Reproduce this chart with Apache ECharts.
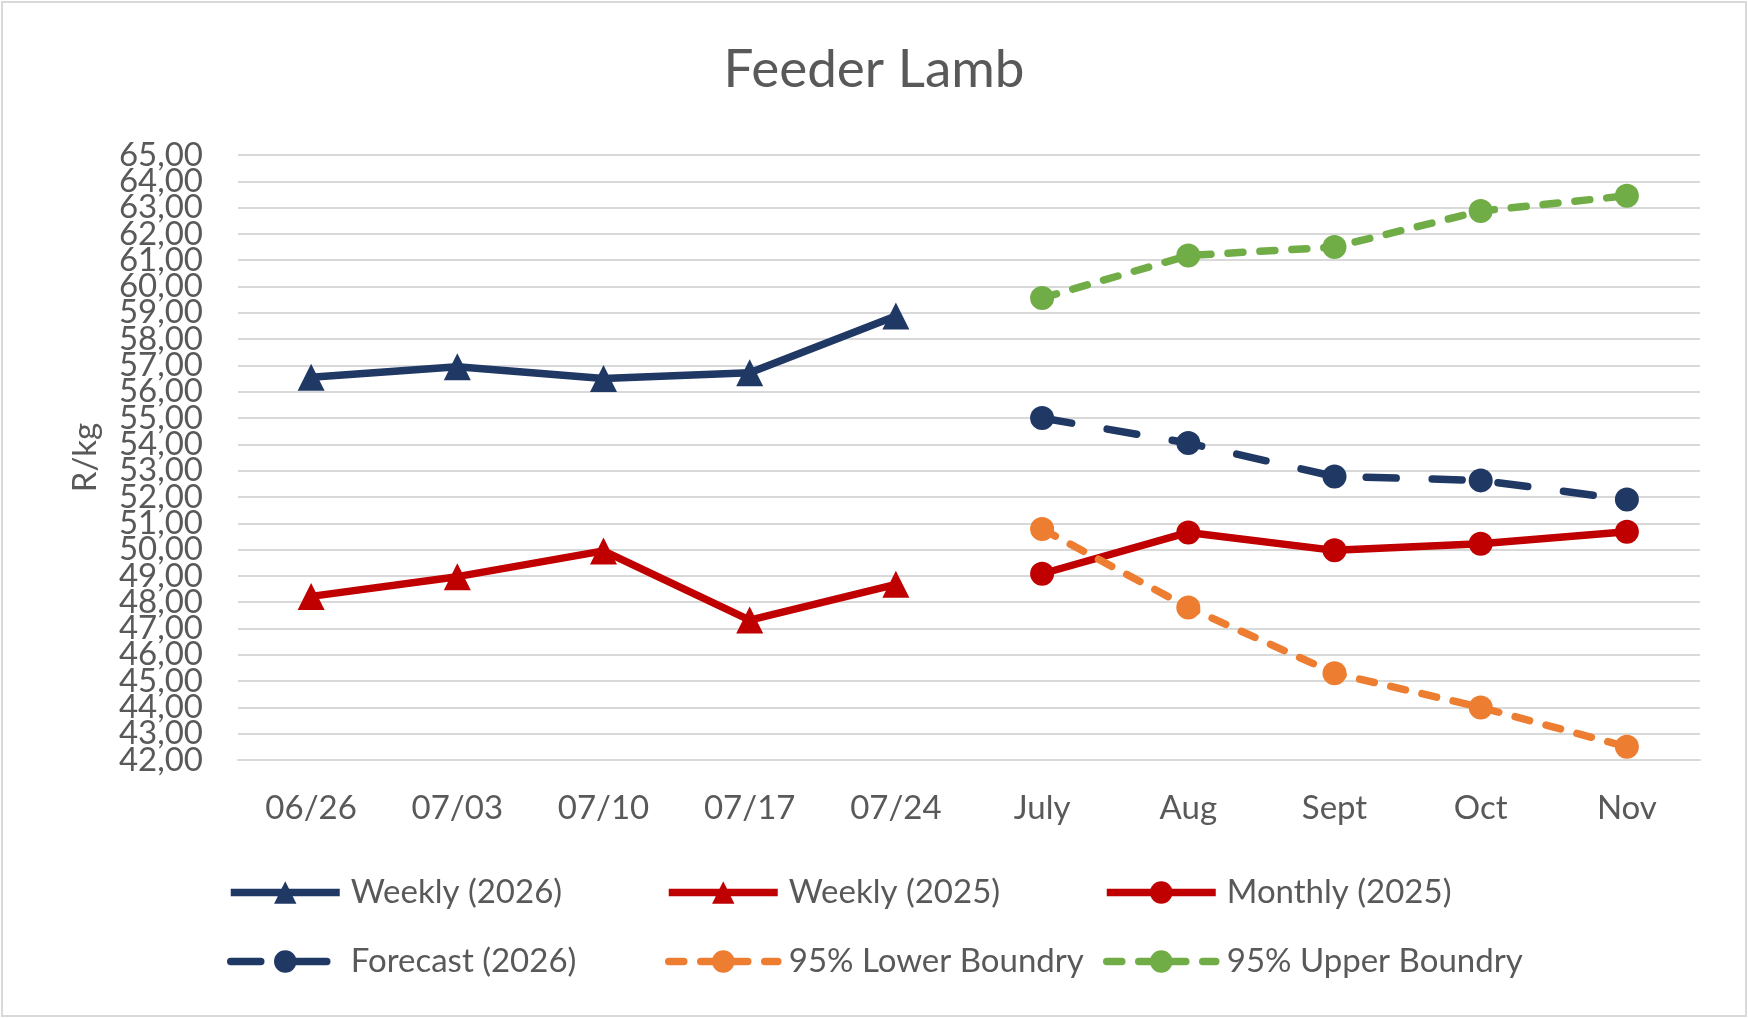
<!DOCTYPE html>
<html>
<head>
<meta charset="utf-8">
<script src="https://cdn.jsdelivr.net/npm/echarts@6/dist/echarts.min.js"></script>
<style>
  html, body { margin: 0; padding: 0; background: #fff; }
  #chart { width: 1748px; height: 1018px; }
</style>
</head>
<body>
<div id="chart"></div>
<script>
var chart = echarts.init(document.getElementById('chart'));

// categories: 5 weeks then 5 months
var categories = ['06/26', '07/03', '07/10', '07/17', '07/24', 'July', 'Aug', 'Sept', 'Oct', 'Nov'];

var weekly2026 = [56.55, 56.95, 56.5, 56.72, 58.88, null, null, null, null, null];
var weekly2025 = [48.22, 48.97, 49.95, 47.32, 48.68, null, null, null, null, null];
var monthly2025 = [null, null, null, null, null, 49.08, 50.65, 49.97, 50.22, 50.68];
var forecast2026 = [null, null, null, null, null, 55.0, 54.05, 52.78, 52.63, 51.9];
var lower95 = [null, null, null, null, null, 50.78, 47.8, 45.3, 44.0, 42.5];
var upper95 = [null, null, null, null, null, 59.56, 61.18, 61.5, 62.87, 63.45];

var yMin = 42, yMax = 65, yStep = 1;

var font = 'Lato';
var grey = '#595959';
var lw = 7.5;

function lineSeries(name, data, color, symbol, size, dash) {
    return {
        name: name,
        type: 'line',
        yAxisIndex: 0,
        data: data,
        symbol: symbol,
        symbolSize: size,
        showSymbol: true,
        connectNulls: false,
        itemStyle: { color: color },
        lineStyle: {
            color: color,
            width: lw,
            type: dash || 'solid',
            cap: dash ? 'round' : 'butt'
        },
        emphasis: { disabled: true },
        animation: false
    };
}

// one legend per entry so the two rows sit in Excel's columns
function legendAt(name, left, top) {
    return {
        data: [name],
        left: left,
        top: top,
        itemWidth: 109,
        itemHeight: 28,
        lineStyle: { width: lw },
        textStyle: { fontFamily: font, fontSize: 33, color: grey, padding: [0, 0, 0, 6] },
        selectedMode: false
    };
}

// the labels are packed so tight that echarts drops the ones next to min/max;
// split them over two stacked axes (even / odd values) so all show
function yLabelAxis(parity, withGrid) {
    return {
        type: 'value',
        position: 'left',
        min: yMin,
        max: yMax,
        interval: yStep,
        name: withGrid ? 'R/kg' : '',
        nameLocation: 'middle',
        nameRotate: 90,
        nameGap: 136,
        nameTextStyle: { fontFamily: font, fontSize: 33, color: grey },
        axisLine: { show: false },
        axisTick: { show: false },
        splitLine: { show: withGrid, lineStyle: { color: '#d9d9d9', width: 2 } },
        axisLabel: {
            fontFamily: font,
            fontSize: 33,
            color: grey,
            margin: 35,
            showMinLabel: true,
            showMaxLabel: true,
            formatter: function (v) {
                if (Math.round(v) % 2 !== parity) return '';
                return v.toFixed(2).replace('.', ',');
            }
        }
    };
}

var option = {
    backgroundColor: '#fff',
    title: {
        text: 'Feeder Lamb',
        left: 'center',
        top: 38,
        textStyle: { fontFamily: font, fontSize: 53, fontWeight: 'normal', color: grey }
    },
    graphic: [{
        type: 'rect',
        shape: { x: 2, y: 2, width: 1744, height: 1014 },
        style: { fill: 'none', stroke: '#d9d9d9', lineWidth: 2 },
        silent: true
    }],
    legend: [
        legendAt('Weekly (2026)', 222, 871),
        legendAt('Weekly (2025)', 660, 871),
        legendAt('Monthly (2025)', 1098, 871),
        legendAt('Forecast (2026)', 222, 940),
        legendAt('95% Lower Boundry', 660, 940),
        legendAt('95% Upper Boundry', 1098, 940)
    ],
    grid: {
        left: 238,
        right: 48,
        top: 155,
        bottom: 258,
        containLabel: false
    },
    xAxis: {
        type: 'category',
        data: categories,
        boundaryGap: true,
        axisTick: { show: false },
        axisLine: { show: true, lineStyle: { color: '#d9d9d9', width: 2 } },
        axisLabel: { fontFamily: font, fontSize: 33, color: grey, margin: 32, interval: 0 }
    },
    yAxis: [yLabelAxis(0, true), yLabelAxis(1, false)],
    series: [
        lineSeries('Weekly (2026)', weekly2026, '#203864', 'triangle', 27),
        lineSeries('Weekly (2025)', weekly2025, '#c00000', 'triangle', 27),
        lineSeries('Monthly (2025)', monthly2025, '#c00000', 'circle', 24),
        lineSeries('Forecast (2026)', forecast2026, '#203864', 'circle', 24, [30, 36]),
        lineSeries('95% Lower Boundry', lower95, '#ed7d31', 'circle', 24, [15, 17]),
        lineSeries('95% Upper Boundry', upper95, '#70ad47', 'circle', 24, [15, 17])
    ]
};

chart.setOption(option);
</script>
</body>
</html>
